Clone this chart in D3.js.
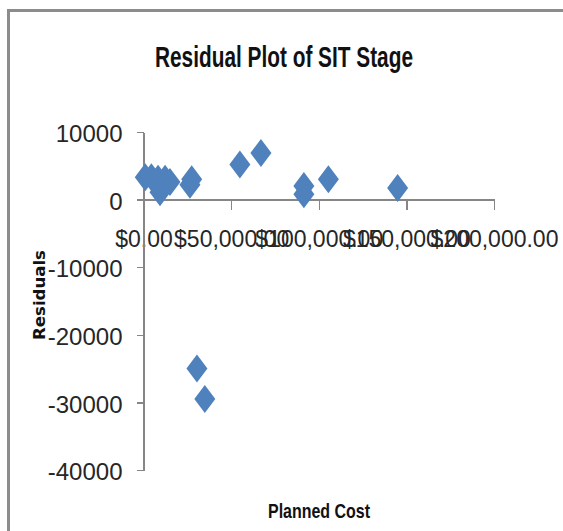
<!doctype html>
<html>
<head>
<meta charset="utf-8">
<title>Residual Plot of SIT Stage</title>
<script src="https://d3js.org/d3.v7.min.js"></script>
<style>
  html, body { margin: 0; padding: 0; background: #fff; overflow: hidden; }
  svg { display: block; }
  .axis path, .axis line { stroke: #868686; stroke-width: 1.3; shape-rendering: crispEdges; }
  .axis text { font-family: "Liberation Sans Narrow", "Arial Narrow", "Liberation Sans", sans-serif; fill: #262626; }
  .frame { stroke: #8c8c8c; stroke-width: 3; fill: none; }
</style>
</head>
<body>
<div id="chart"></div>
<script>
// values
var plannedCost = [1000, 4500, 8300, 12300, 15100, 9400, 26500, 27500, 30500, 35000, 55000, 67000, 91500, 91500, 105500, 145000];
var residuals   = [3300, 3300, 3100, 3100, 2600, 1100, 2200, 3000, -25000, -29500, 5200, 6900, 2000, 800, 3000, 1700];
var xTicks = [0, 50000, 100000, 150000, 200000];
var yTicks = [10000, 0, -10000, -20000, -30000, -40000];

var W = 563, H = 531;

var svg = d3.select("#chart").append("svg")
    .attr("width", W)
    .attr("height", H);

// chart frame: only its top and left edges are inside the picture
svg.append("path")
    .attr("class", "frame")
    .attr("d", "M8.5," + H + "V10.5H" + W);

var x = d3.scaleLinear()
    .domain([0, 200000])
    .range([143.5, 494]);

var y = d3.scaleLinear()
    .domain([-40000, 10000])
    .range([470, 132]);

// x axis crosses at y = 0
var xAxis = svg.append("g")
    .attr("class", "axis")
    .attr("transform", "translate(0," + y(0) + ")")
    .call(d3.axisBottom(x)
      .tickValues(xTicks)
      .tickSizeInner(10)
      .tickSizeOuter(0)
      .tickPadding(21)
      .tickFormat(d3.format("$,.2f")));
xAxis.selectAll("text").style("font-size", "23px");

// y axis at x = 0
var yAxis = svg.append("g")
    .attr("class", "axis")
    .attr("transform", "translate(" + x(0) + ",0)")
    .call(d3.axisLeft(y)
      .tickValues(yTicks)
      .tickSizeInner(7)
      .tickSizeOuter(0)
      .tickPadding(14)
      .tickFormat(function(d){ return String(d); }));
yAxis.selectAll("text").style("font-size", "24px").attr("dy", "0.4em");

// diamond markers
var diamond = "M0,-14L10.5,0L0,14L-10.5,0Z";
svg.append("g")
  .selectAll("path")
  .data(plannedCost)
  .enter()
  .append("path")
    .attr("d", diamond)
    .attr("transform", function(d, i){ return "translate(" + x(d) + "," + y(residuals[i]) + ")"; })
    .attr("fill", "#4f81bd");

// title
svg.append("text")
    .attr("x", 284).attr("y", 67)
    .attr("text-anchor", "middle")
    .attr("textLength", 258)
    .attr("lengthAdjust", "spacingAndGlyphs")
    .style("font-family", "'Liberation Sans Narrow', 'Liberation Sans', sans-serif")
    .style("font-weight", "bold")
    .style("font-size", "29px")
    .style("fill", "#111")
    .text("Residual Plot of SIT Stage");

// x axis title
svg.append("text")
    .attr("x", 319).attr("y", 518)
    .attr("text-anchor", "middle")
    .attr("textLength", 102)
    .attr("lengthAdjust", "spacingAndGlyphs")
    .style("font-family", "'Liberation Sans Narrow', 'Liberation Sans', sans-serif")
    .style("font-weight", "bold")
    .style("font-size", "21px")
    .style("fill", "#111")
    .text("Planned Cost");

// y axis title
svg.append("text")
    .attr("transform", "translate(45,295) rotate(-90)")
    .attr("text-anchor", "middle")
    .attr("textLength", 90)
    .attr("lengthAdjust", "spacingAndGlyphs")
    .style("font-family", "'DejaVu Sans', sans-serif")
    .style("font-weight", "bold")
    .style("font-size", "16.5px")
    .style("fill", "#111")
    .text("Residuals");
</script>
</body>
</html>
